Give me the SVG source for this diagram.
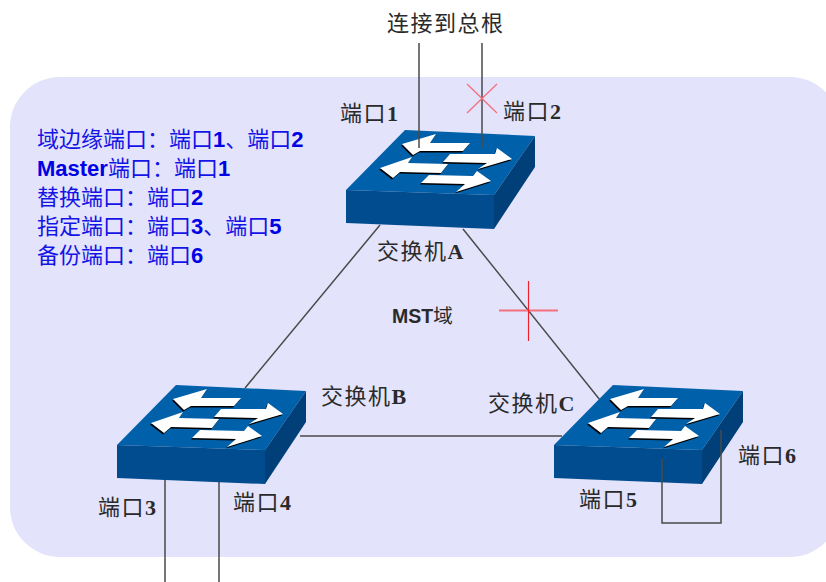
<svg xmlns="http://www.w3.org/2000/svg" width="826" height="582" viewBox="0 0 826 582">
<style>
.l{fill:none;stroke:#4a4a4a;stroke-width:1.5}
.x{fill:none;stroke:#f4707c;stroke-width:1.3}
.t{font-family:"Noto Sans CJK SC",sans-serif;font-size:22px;letter-spacing:1.5px;fill:#2a2a2a}
.d{font-family:"Liberation Serif",serif;font-weight:bold;letter-spacing:0}
.b{font-family:"Noto Sans CJK SC",sans-serif;font-size:22px;fill:#1414e6}
.n{font-family:"Liberation Sans",sans-serif;font-weight:bold;fill:#0000e6}
</style>
<defs>
<g id="arrows">
<path d="M402 144L436 134L430 143L470 143L463 151L420 151L413 155Z"/>
<path d="M512 159L497 148L495 154L450 154L443 162L487 163L478 169Z"/>
<path d="M380 168L412 157L408 163L448 164L441 173L400 172L393 178Z"/>
<path d="M491 181L477 171L473 176L429 175L421 183L465 184L456 192Z"/>
</g>
<g id="sw">
<path d="M405 130L535 136L494 195L346 190Z" fill="#0060aa"/>
<path d="M346 190L494 195V229L346 223Z" fill="#004c8e"/>
<path d="M494 195L535 136V167L494 229Z" fill="#003f78"/>
<use href="#arrows" fill="#000" x="-1" y="1.5"/>
<use href="#arrows" fill="#fff"/>
</g>
</defs>
<rect width="826" height="582" fill="#fff"/>
<rect x="10" y="77" width="830" height="480" rx="50" fill="#e3e3fb"/>
<g id="connectors">
<path class="l" d="M380 225L245 388M463 229L600 400M300 436H562M165 473V582M219 473V582"/>
</g>
<g id="switch-a"><use href="#sw"/></g>
<g id="switch-b"><use href="#sw" x="-229" y="255"/></g>
<g id="switch-c"><use href="#sw" x="208" y="255"/></g>
<g id="links-over">
<path class="l" d="M419 43V148M482 43V148M662 459V523H721V430"/>
<path class="x" d="M467 84L497 113M497 84L467 113"/>
<path d="M499 310.500H558" fill="none" stroke="#f4707c" stroke-width="2"/>
<path d="M528.500 281V341" fill="none" stroke="#f0202c" stroke-width="1.2"/>
</g>
<text class="t" x="387" y="31">连接到总根</text>
<text class="t" x="340" y="121">端口<tspan class="d">1</tspan></text>
<text class="t" x="503" y="119">端口<tspan class="d">2</tspan></text>
<text class="t" x="377" y="259">交换机<tspan class="d">A</tspan></text>
<text x="392" y="323" style="font-family:'Noto Sans CJK SC',sans-serif;font-size:19.500px;fill:#2a2a2a"><tspan style="font-family:'Liberation Sans',sans-serif;font-weight:bold">MST</tspan>域</text>
<text class="t" x="321" y="404">交换机<tspan class="d">B</tspan></text>
<text class="t" x="488" y="411">交换机<tspan class="d">C</tspan></text>
<text class="t" x="98" y="515">端口<tspan class="d">3</tspan></text>
<text class="t" x="233" y="510">端口<tspan class="d">4</tspan></text>
<text class="t" x="579" y="507">端口<tspan class="d">5</tspan></text>
<text class="t" x="738" y="463">端口<tspan class="d">6</tspan></text>
<g id="legend">
<text class="b" x="37" y="147">域边缘端口：端口<tspan class="n">1</tspan>、端口<tspan class="n">2</tspan></text>
<text class="b" x="37" y="176"><tspan class="n">Master</tspan>端口：端口<tspan class="n">1</tspan></text>
<text class="b" x="37" y="205">替换端口：端口<tspan class="n">2</tspan></text>
<text class="b" x="37" y="234">指定端口：端口<tspan class="n">3</tspan>、端口<tspan class="n">5</tspan></text>
<text class="b" x="37" y="263">备份端口：端口<tspan class="n">6</tspan></text>
</g>
</svg>
